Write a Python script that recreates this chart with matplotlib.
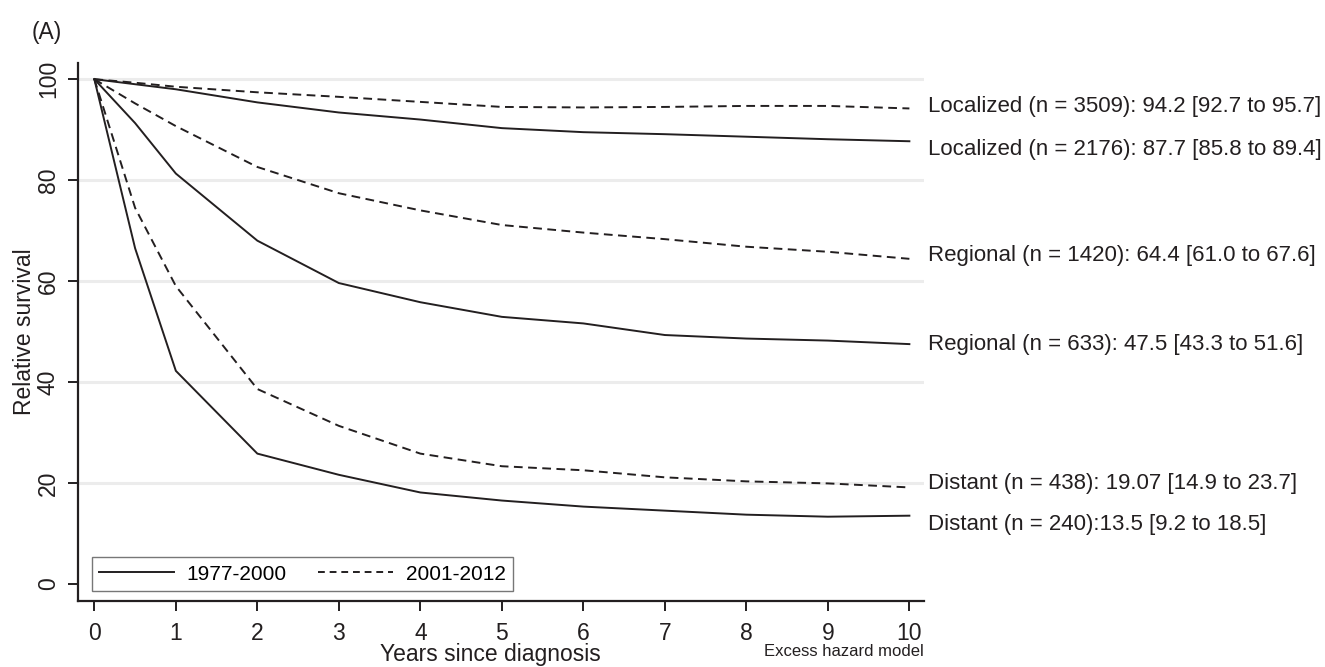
import numpy as np
import matplotlib
matplotlib.use("Agg")
from matplotlib import pyplot as plt
from matplotlib.lines import Line2D

plt.rcParams['font.family'] = ['Liberation Sans', 'DejaVu Sans']

# years since diagnosis
years = [0, 0.5, 1, 2, 3, 4, 5, 6, 7, 8, 9, 10]

# relative survival (%), 1977-2000 (solid) and 2001-2012 (dashed)
localized_early = [100, 99.0, 98.0, 95.4, 93.4, 92.0, 90.3, 89.5, 89.1, 88.6, 88.1, 87.7]
localized_late = [100, 99.3, 98.5, 97.4, 96.5, 95.5, 94.5, 94.4, 94.5, 94.7, 94.7, 94.2]
regional_early = [100, 91.3, 81.3, 68.0, 59.6, 55.8, 52.9, 51.6, 49.3, 48.6, 48.2, 47.5]
regional_late = [100, 95.2, 90.7, 82.6, 77.4, 74.0, 71.1, 69.6, 68.3, 66.8, 65.8, 64.4]
distant_early = [100, 66.5, 42.2, 25.8, 21.6, 18.1, 16.5, 15.3, 14.5, 13.7, 13.3, 13.5]
distant_late = [100, 74.5, 59.0, 38.6, 31.3, 25.8, 23.3, 22.5, 21.1, 20.3, 19.9, 19.1]

end_labels = [
    'Localized (n = 3509): 94.2 [92.7 to 95.7]',
    'Localized (n = 2176): 87.7 [85.8 to 89.4]',
    'Regional (n = 1420): 64.4 [61.0 to 67.6]',
    'Regional (n = 633): 47.5 [43.3 to 51.6]',
    'Distant (n = 438): 19.07 [14.9 to 23.7]',
    'Distant (n = 240):13.5 [9.2 to 18.5]',
]
end_label_y = [94.5, 86.0, 65.0, 47.5, 19.8, 11.7]

grid_levels = [20, 40, 60, 80, 100]
yticks = [0, 20, 40, 60, 80, 100]
xticks = list(range(0, 11))
period_labels = ['1977-2000', '2001-2012']

ink = '#231f20'
dash = (4.5, 2.8)

fig = plt.figure(figsize=(13.25, 6.67), dpi=100)
ax = fig.add_axes([0.0589, 0.099, 0.6385, 0.8065])

for g in grid_levels:
    ax.axhline(g, color='#ececec', lw=2.2, zorder=0)

for series in [localized_early, regional_early, distant_early]:
    ax.plot(years, series, color=ink, lw=1.4, solid_joinstyle='round')
for series in [localized_late, regional_late, distant_late]:
    ax.plot(years, series, color=ink, lw=1.4, dashes=dash)

for text, y in zip(end_labels, end_label_y):
    ax.text(10.23, y, text, ha='left', va='center', fontsize=16,
            color=ink, clip_on=False)

ax.set_xlim(-0.2, 10.18)
ax.set_ylim(-3.4, 103.2)
ax.set_xticks(xticks)
ax.set_yticks(yticks)
ax.set_yticklabels([str(v) for v in yticks], rotation=90, va='center')
ax.tick_params(axis='both', direction='out', length=7, width=1.4,
               colors=ink, labelsize=16.5)
ax.tick_params(axis='x', pad=8)
ax.tick_params(axis='y', pad=6)

for side in ['top', 'right']:
    ax.spines[side].set_visible(False)
for side in ['left', 'bottom']:
    ax.spines[side].set_linewidth(1.6)
    ax.spines[side].set_color(ink)

ax.set_ylabel('Relative survival', fontsize=16.5, color=ink, labelpad=1)
fig.text(490 / 1325, 1 - 655 / 667, 'Years since diagnosis', fontsize=16.5,
         color=ink, ha='center', va='center')
fig.text(924 / 1325, 1 - 651 / 667, 'Excess hazard model', fontsize=12,
         color=ink, ha='right', va='center')
fig.text(32 / 1325, 1 - 32 / 667, '(A)', fontsize=16.5, color=ink,
         ha='left', va='center')

handles = [Line2D([], [], color=ink, lw=1.4),
           Line2D([], [], color=ink, lw=1.4, dashes=(3.5, 2.5))]
leg = ax.legend(handles, period_labels, loc='lower left',
                bbox_to_anchor=(92 / 1325, 1 - 591 / 667), bbox_transform=fig.transFigure,
                ncol=2, fontsize=15, frameon=True, fancybox=False,
                handlelength=3.6, handletextpad=0.6, columnspacing=1.5,
                borderpad=0.35, borderaxespad=0)
leg.get_frame().set_edgecolor('#555555')
leg.get_frame().set_linewidth(1.0)

fig.savefig('out.png', dpi=100)
